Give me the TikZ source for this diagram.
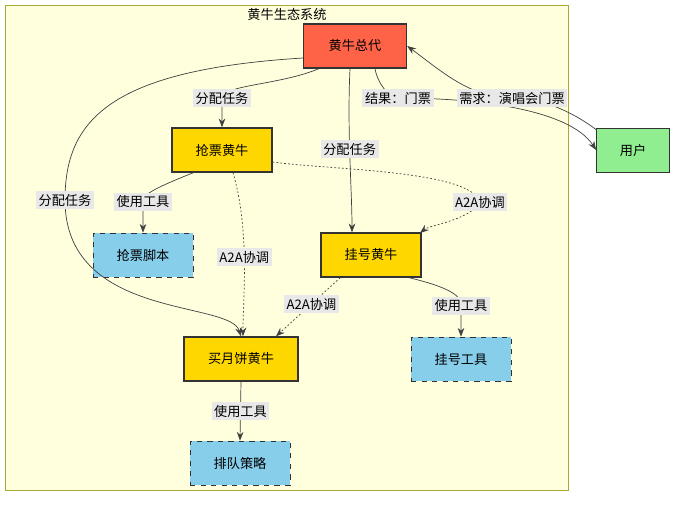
\documentclass[tikz,border=0pt]{standalone}
\usepackage{fontspec}
\setmainfont{Noto Sans CJK SC}
\usetikzlibrary{arrows.meta}
\definecolor{clusterfill}{HTML}{FFFFDE}
\definecolor{clusterline}{HTML}{AAAA33}
\definecolor{bossfill}{HTML}{FF6347}
\definecolor{agentfill}{HTML}{FFD700}
\definecolor{toolfill}{HTML}{87CEEB}
\definecolor{userfill}{HTML}{90EE90}
\definecolor{lblfill}{HTML}{E8E8E8}
\begin{document}
\begin{tikzpicture}[x=0.02cm, y=-0.02cm, font=\fontsize{7.5}{9}\selectfont]
  \tikzstyle{box}=[draw=black!80, inner sep=0pt]
  \tikzstyle{boss}=[box, fill=bossfill, line width=0.8pt, minimum width=2.06cm, minimum height=0.88cm]
  \tikzstyle{agent}=[box, fill=agentfill, line width=0.8pt, minimum width=2cm, minimum height=0.88cm]
  \tikzstyle{tool}=[box, fill=toolfill, dashed, minimum width=2cm, minimum height=0.88cm]
  \tikzstyle{user}=[box, fill=userfill, minimum width=1.46cm, minimum height=0.88cm]
  \tikzstyle{lbl}=[fill=lblfill, inner sep=1.5pt]
  \tikzstyle{flow}=[draw=black!75, -{Stealth[length=5pt]}]
  \tikzstyle{a2a}=[flow, dash pattern=on 1pt off 1.2pt]

  \useasboundingbox (0,0) rectangle (681,508);
  \draw[clusterline, fill=clusterfill] (5,5) rectangle (568,490);
  \node (title) at (287,14) {黄牛生态系统};

  \node[boss]  (boss)   at (355,46)  {黄牛总代};
  \node[agent] (ticket) at (222,150) {抢票黄牛};
  \node[agent] (clinic) at (371,255) {挂号黄牛};
  \node[agent, minimum width=2.28cm] (cake) at (241,359) {买月饼黄牛};
  \node[tool]  (script) at (143,255) {抢票脚本};
  \node[tool]  (cltool) at (461,359) {挂号工具};
  \node[tool]  (queue)  at (240,463) {排队策略};
  \node[user]  (user)   at (633,150) {用户};

  \path[flow] (boss.south west) ++(16,0) coordinate (b1)
    (b1) .. controls (280,85) and (222,85) .. (222,98)
    node[lbl] {分配任务} -- (ticket.north);
  \path[flow] (boss.south) ++(-5,0) coordinate (b2)
    (b2) .. controls (347,130) and (352,190) .. (clinic.north west -| 352,0)
    node[lbl, pos=0.45] {分配任务};
  \path[flow] (boss.west) ++(0,12) coordinate (b3)
    (b3) .. controls (110,70) and (65,120) .. (65,200)
    node[lbl] {分配任务}
    .. controls (65,320) and (230,300) .. (cake.north);
  \path[flow] (boss.south) ++(20,0) coordinate (b4)
    (b4) .. controls (378,85) and (390,98) .. (398,98)
    node[lbl] {结果：门票}
    .. controls (480,98) and (570,110) .. (user.west);
  \path[flow] (user.north west) ++(0,2) coordinate (u1)
    (u1) .. controls (570,110) and (540,98) .. (512,98)
    node[lbl] {需求：演唱会门票}
    .. controls (470,98) and (440,70) .. (boss.east);

  \path[flow] (ticket.south west) ++(22,0) coordinate (t1)
    (t1) .. controls (150,190) and (143,195) .. (143,202)
    node[lbl] {使用工具} -- (script.north);
  \path[a2a] (ticket.east) ++(0,12) coordinate (t2)
    (t2) .. controls (330,170) and (470,170) .. (480,202)
    node[lbl] {A2A协调}
    .. controls (470,220) and (430,225) .. (420,233);
  \path[a2a] (ticket.south) ++(11,0) coordinate (t3)
    (t3) .. controls (250,230) and (243,300) .. (cake.north -| 243,0)
    node[lbl, pos=0.47] {A2A协调};
  \path[a2a] (clinic.south west) ++(20,0) coordinate (c1)
    (c1) -- (cake.north east -| 276,0)
    node[lbl, pos=0.45] {A2A协调};
  \path[flow] (clinic.south) ++(38,0) coordinate (c2)
    (c2) .. controls (461,290) and (461,300) .. (461,306)
    node[lbl] {使用工具} -- (cltool.north);
  \path[flow] (cake.south) -- (queue.north) node[lbl, pos=0.5] {使用工具};
\end{tikzpicture}
\end{document}
